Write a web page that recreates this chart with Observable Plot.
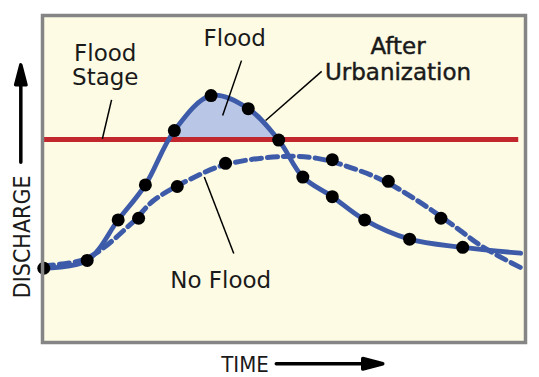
<!DOCTYPE html>
<html>
<head>
<meta charset="utf-8">
<script src="https://cdn.jsdelivr.net/npm/d3@7"></script>
<script src="https://cdn.jsdelivr.net/npm/@observablehq/plot@0.6"></script>
<style>
  html, body { margin: 0; padding: 0; background: #ffffff; }
  #chart { width: 539px; height: 377px; }
</style>
</head>
<body>
<div id="chart"></div>
<script>
// ---- data (time / discharge in arbitrary units, 0–100) ----
const floodStage = 62.1;

// After urbanization hydrograph (solid line, dots on it)
const urbanTime      = [0.27, 9.25, 15.67, 21.3, 27.3, 34.9, 42.6, 48.9, 53.9, 60.0, 66.7, 76.0, 87.0, 99.0];
const urbanDischarge = [22.7, 25.1, 37.5, 48.2, 64.8, 75.5, 71.5, 61.9, 50.6, 44.6, 37.5, 31.6, 29.1, 27.3];
const urbanDotCount = 13; // last value is the line's end, without a dot

// Before urbanization hydrograph (dashed line)
const ruralTime      = [0.2, 9.1, 18.2, 23.0, 30.0, 37.9, 49.9, 56.9, 63.8, 70.6, 77.6, 84.5, 91.3, 99.0];
const ruralDischarge = [23.5, 25.7, 36.1, 43.4, 49.5, 54.4, 56.9, 56.3, 53.5, 49.5, 43.4, 36.4, 29.1, 22.9];
// dots along the dashed line
const ruralDotTime      = [19.9, 27.9, 37.9, 60.0, 71.6, 82.5];
const ruralDotDischarge = [38.0, 47.7, 54.8, 55.9, 49.3, 38.0];

// annotation labels
const labelText = ["Flood", "Flood", "Stage", "After", "Urbanization", "No Flood"];
const labelX    = [39.8, 13.0, 13.0, 73.6, 73.6, 36.9];
const labelY    = [90.8, 86.2, 78.8, 88.3, 80.4, 16.7];
const labelBold = [false, false, false, true, true, false];

// leader lines
const leaderX1 = [14.3, 41.2, 57.8, 33.5];
const leaderY1 = [74.2, 86.2, 82.9, 50.6];
const leaderX2 = [12.4, 37.3, 46.2, 39.6];
const leaderY2 = [62.3, 69.4, 67.9, 27.2];

// axis titles
const axisText = ["DISCHARGE", "TIME"];

// ---- build tables ----
const urban = urbanTime.map((t, i) => ({time: t, discharge: urbanDischarge[i]}));
const urbanDots = urban.slice(0, urbanDotCount);
const rural = ruralTime.map((t, i) => ({time: t, discharge: ruralDischarge[i]}));
const ruralDots = ruralDotTime.map((t, i) => ({time: t, discharge: ruralDotDischarge[i]}));
const labels = labelText.map((s, i) => ({text: s, x: labelX[i], y: labelY[i], bold: labelBold[i]}));
const leaders = leaderX1.map((x, i) => ({x1: x, y1: leaderY1[i], x2: leaderX2[i], y2: leaderY2[i]}));

const cream = "#fdfbe4";
const blue = "#3d5ba9";
const red = "#c3272e";
const fillBlue = "#bac6e6";
const ink = "#1a1a1a";
const condensed = "'DejaVu Sans Condensed', 'DejaVu Sans', sans-serif";

const arrowShape = {
  draw(context, l, r) {
    const head = 20, hw = 5.2;
    context.moveTo(0, 0);
    context.lineTo(0, -l + head);
    context.moveTo(-hw, -l + head);
    context.lineTo(0, -l);
    context.lineTo(hw, -l + head);
    context.closePath();
  }
};
const arrowStyle = {anchor: "start", shape: arrowShape, stroke: "black", fill: "black", strokeWidth: 3.5, strokeLinejoin: "round"};

const chart = Plot.plot({
  width: 539,
  height: 377,
  marginLeft: 42,
  marginRight: 14,
  marginTop: 15,
  marginBottom: 35,
  x: {domain: [0, 100], axis: null},
  y: {domain: [0, 100], axis: null},
  style: {background: "#ffffff", fontFamily: "'DejaVu Sans', sans-serif", overflow: "visible"},
  marks: [
    Plot.frame({fill: cream, stroke: "none"}),
    Plot.areaY(urban, {x: "time", y1: floodStage, y2: "discharge", curve: "catmull-rom", fill: fillBlue}),
    Plot.rect([{x1: 0, x2: 100, y1: 0, y2: floodStage}], {x1: "x1", x2: "x2", y1: "y1", y2: "y2", fill: cream}),
    Plot.ruleY([floodStage], {x1: 0.4, x2: 98.6, stroke: red, strokeWidth: 5}),
    Plot.line(rural, {x: "time", y: "discharge", curve: "catmull-rom", stroke: blue, strokeWidth: 5, strokeDasharray: "10,6"}),
    Plot.line(urban, {x: "time", y: "discharge", curve: "catmull-rom", stroke: blue, strokeWidth: 4.8}),
    Plot.dot(urbanDots, {x: "time", y: "discharge", r: 6.5, fill: "black"}),
    Plot.dot(ruralDots, {x: "time", y: "discharge", r: 6.5, fill: "black"}),
    Plot.link(leaders, {x1: "x1", y1: "y1", x2: "x2", y2: "y2", stroke: "black", strokeWidth: 1.5}),
    Plot.text(labels.filter(d => !d.bold), {x: "x", y: "y", text: "text", textAnchor: "middle", lineAnchor: "bottom", fontSize: 23, fill: ink}),
    Plot.text(labels.filter(d => d.bold), {x: "x", y: "y", text: "text", textAnchor: "middle", lineAnchor: "bottom", fontSize: 23, fill: ink, stroke: ink, strokeWidth: 0.45}),
    Plot.text([axisText[0]], {x: -2.63, y: 32.3, text: d => d, rotate: -90, textAnchor: "middle", lineAnchor: "bottom", fontSize: 23, fontFamily: condensed, fill: ink}),
    Plot.text([axisText[1]], {x: 37.0, y: -9.1, text: d => d, textAnchor: "start", lineAnchor: "bottom", fontSize: 22, fontFamily: condensed, fill: ink}),
    Plot.vector([{x: -4.49, y: 55.1}], {x: "x", y: "y", rotate: 0, length: 97.5, ...arrowStyle}),
    Plot.vector([{x: 48.4, y: -6.5}], {x: "x", y: "y", rotate: 90, length: 106.5, ...arrowStyle}),
    Plot.frame({stroke: "#858585", strokeWidth: 3.5})
  ]
});
document.getElementById("chart").appendChild(chart);
</script>
</body>
</html>
